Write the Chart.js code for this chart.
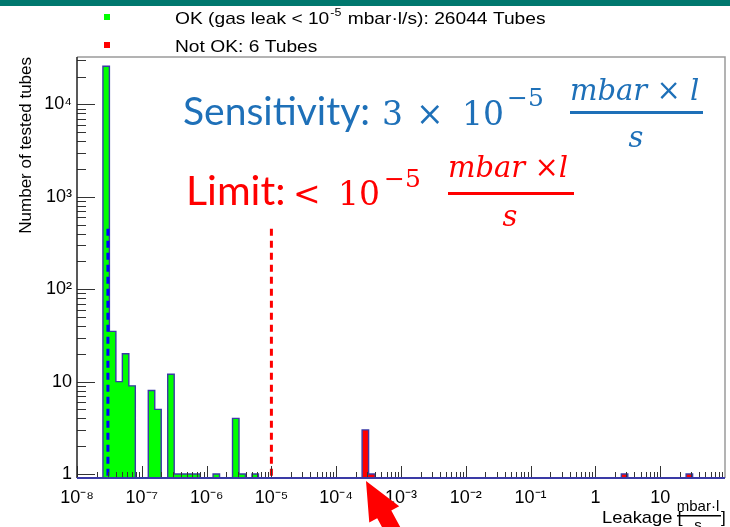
<!DOCTYPE html>
<html>
<head>
<meta charset="utf-8">
<title>Leak test</title>
<script src="https://cdn.jsdelivr.net/npm/chart.js@4.4.1/dist/chart.umd.min.js"></script>
<style>
    html, body { margin: 0; padding: 0; background: #fff; }
    #wrap { position: relative; width: 730px; height: 527px; overflow: hidden; }
    #band { position: absolute; left: 0; top: 0; width: 730px; height: 6px; background: #00786e; }
</style>
</head>
<body>
<div id="wrap">
    <canvas id="chartLeak" width="730" height="527"></canvas>
    <div id="band"></div>
</div>
<script>
// ============= DADOS =============
// histogram bins: log10 of the lower edge of each filled bin (bins are 0.1 decade wide)
const greenLogLo  = [-7.6, -7.5, -7.4, -7.3, -7.2, -6.9, -6.8, -6.6, -6.5, -6.4, -6.3, -6.2, -5.9, -5.6, -5.5, -5.3];
const greenCounts = [25934, 35, 10, 20, 9, 8, 5, 12, 1, 1, 1, 1, 1, 4, 1, 1];
const redLogLo    = [-3.6, -3.5, 0.4, 1.4];
const redCounts   = [3, 1, 1, 1];
const BIN_WIDTH   = 0.1;

const sensitivityX = 3e-8;
const limitX       = 1e-5;
const markerTop    = 450;

const xTickValues = [1e-8, 1e-7, 1e-6, 1e-5, 1e-4, 1e-3, 1e-2, 1e-1, 1, 10];
const xTickLabels = ['10⁻⁸', '10⁻⁷', '10⁻⁶', '10⁻⁵', '10⁻⁴', '10⁻³', '10⁻²', '10⁻¹', '1', '10'];
const yTickValues = [1, 10, 100, 1000, 10000];
const yTickLabels = ['1', '10', '10²', '10³', '10⁴'];

const X_MIN = 1e-8, X_MAX = 100;
const Y_MIN = 0.905, Y_MAX = 32600;

// ============= CORES =============
const CORES = {
    verde:   '#00ff00',
    vermelho:'#ff0000',
    contorno:'#3a3aa6',
    azulTxt: '#1e70b8',
    azul:    '#0000ff',
    moldura: '#9a9a9a',
    tick:    '#333333'
};

const FONTE = '"Liberation Sans", Arial, sans-serif';

// stepped outline of a histogram, back down to the axis between gaps
function histPoints(logLo, counts) {
    const floor = Y_MIN;
    const pts = [];
    logLo.forEach((lo, i) => {
        const prevHi = i > 0 ? logLo[i - 1] + BIN_WIDTH : null;
        if (prevHi === null) {
            pts.push({ x: Math.pow(10, lo), y: floor });
        } else if (Math.abs(prevHi - lo) > 1e-6) {
            pts.push({ x: Math.pow(10, prevHi), y: floor });
        }
        pts.push({ x: Math.pow(10, lo), y: counts[i] });
    });
    pts.push({ x: Math.pow(10, logLo[logLo.length - 1] + BIN_WIDTH), y: floor });
    return pts;
}

function labelFor(values, labels, v) {
    const i = values.findIndex(t => Math.abs(Math.log10(t) - Math.log10(v)) < 1e-6);
    return i >= 0 ? labels[i] : '';
}

// text slightly stretched horizontally, like the original ROOT canvas
function wideText(ctx, txt, x, y, sx) {
    ctx.save();
    ctx.translate(x, y);
    ctx.scale(sx, 1);
    ctx.fillText(txt, 0, 0);
    const w = ctx.measureText(txt).width * sx;
    ctx.restore();
    return w;
}

// ============= PLUGIN – ticks, moldura, textos =============
const rootStyle = {
    id: 'rootStyle',
    afterDatasetsDraw(chart) {
        const { ctx, chartArea: a, scales: { x, y } } = chart;
        ctx.save();
        // inward ticks
        ctx.strokeStyle = CORES.tick;
        ctx.lineWidth = 1;
        ctx.beginPath();
        for (let d = -8; d <= 1; d++) {
            for (let m = 1; m <= 9; m++) {
                const px = Math.round(x.getPixelForValue(m * Math.pow(10, d))) + 0.5;
                const len = m === 1 ? 12 : 6;
                ctx.moveTo(px, a.bottom);
                ctx.lineTo(px, a.bottom - len);
            }
        }
        for (let d = 0; d <= 4; d++) {
            for (let m = 1; m <= 9; m++) {
                const v = m * Math.pow(10, d);
                if (v > Y_MAX) continue;
                const py = Math.round(y.getPixelForValue(v)) + 0.5;
                const len = m === 1 ? 18 : 9;
                ctx.moveTo(a.left, py);
                ctx.lineTo(a.left + len, py);
            }
        }
        ctx.stroke();

        // frame
        ctx.lineWidth = 1.5;
        ctx.strokeStyle = CORES.moldura;
        ctx.beginPath();
        ctx.moveTo(a.left, a.top);
        ctx.lineTo(a.right, a.top);
        ctx.lineTo(a.right, a.bottom);
        ctx.stroke();
        ctx.strokeStyle = '#222';
        ctx.beginPath();
        ctx.moveTo(a.left, a.top);
        ctx.lineTo(a.left, a.bottom);
        ctx.stroke();
        ctx.strokeStyle = CORES.contorno;
        ctx.lineWidth = 2;
        ctx.beginPath();
        ctx.moveTo(a.left, a.bottom);
        ctx.lineTo(a.right, a.bottom);
        ctx.stroke();
        ctx.restore();
    },
    afterDraw(chart) {
        const { ctx } = chart;
        ctx.save();
        ctx.textBaseline = 'alphabetic';
        ctx.textAlign = 'left';

        // legend
        ctx.fillStyle = CORES.verde;
        ctx.fillRect(104, 14, 6, 6);
        ctx.fillStyle = CORES.vermelho;
        ctx.fillRect(104, 42, 6, 6);
        ctx.fillStyle = '#000';
        const SX = 1.13;
        ctx.font = '17px ' + FONTE;
        let tx = 175;
        tx += wideText(ctx, 'OK (gas leak < 10', tx, 24, SX);
        ctx.font = '11px ' + FONTE;
        tx += wideText(ctx, '-5', tx + 1, 16, SX) + 2;
        ctx.font = '17px ' + FONTE;
        wideText(ctx, ' mbar·l/s): 26044 Tubes', tx, 24, SX);
        wideText(ctx, 'Not OK: 6 Tubes', 175, 52, SX);

        // x title
        ctx.font = '17px ' + FONTE;
        wideText(ctx, 'Leakage [', 602, 523, 1.08);
        ctx.font = '15px ' + FONTE;
        ctx.textAlign = 'center';
        ctx.fillText('mbar·l', 698, 511);
        ctx.fillText('s', 698, 530);
        ctx.fillRect(677, 515, 44, 1.5);
        ctx.textAlign = 'left';
        ctx.font = '17px ' + FONTE;
        ctx.fillText(']', 721, 523);

        // sensitivity
        ctx.fillStyle = CORES.azulTxt;
        ctx.font = '39px Lato, sans-serif';
        ctx.fillText('Sensitivity:', 183, 125);
        ctx.font = '33px "DejaVu Serif", serif';
        ctx.fillText('3', 382, 125);
        ctx.fillText('×', 416, 125);
        ctx.fillText('10', 462, 125);
        ctx.font = '25px "DejaVu Serif", serif';
        ctx.fillText('−5', 507, 106);
        ctx.font = 'italic 29px "DejaVu Serif", serif';
        ctx.fillText('mbar × l', 570, 100);
        ctx.fillRect(570, 111, 133, 3);
        ctx.textAlign = 'center';
        ctx.fillText('s', 636, 147);
        ctx.textAlign = 'left';

        // limit
        ctx.fillStyle = CORES.vermelho;
        ctx.font = '41px Lato, sans-serif';
        ctx.fillText('Limit:', 186, 205);
        ctx.font = '33px "DejaVu Serif", serif';
        ctx.fillText('<', 293, 205);
        ctx.fillText('10', 338, 205);
        ctx.font = '25px "DejaVu Serif", serif';
        ctx.fillText('−5', 384, 187);
        ctx.font = 'italic 29px "DejaVu Serif", serif';
        ctx.fillText('mbar ×l', 448, 177);
        ctx.fillRect(448, 192, 126, 3);
        ctx.textAlign = 'center';
        ctx.fillText('s', 510, 226);

        // arrow
        const tip = { x: 366, y: 481 };
        const ux = 0.48, uy = 0.88, nx = 0.88, ny = -0.48;
        const hl = 38, hw = 17, sw = 8, sl = 80;
        const bx = tip.x + hl * ux, by = tip.y + hl * uy;
        ctx.fillStyle = CORES.vermelho;
        ctx.beginPath();
        ctx.moveTo(tip.x, tip.y);
        ctx.lineTo(bx + hw * nx, by + hw * ny);
        ctx.lineTo(bx + sw * nx, by + sw * ny);
        ctx.lineTo(bx + sw * nx + sl * ux, by + sw * ny + sl * uy);
        ctx.lineTo(bx - sw * nx + sl * ux, by - sw * ny + sl * uy);
        ctx.lineTo(bx - sw * nx, by - sw * ny);
        ctx.lineTo(bx - hw * nx, by - hw * ny);
        ctx.closePath();
        ctx.fill();
        ctx.restore();
    }
};

// ============= GRÁFICO =============
const ctxLeak = document.getElementById('chartLeak');

new Chart(ctxLeak, {
    type: 'line',
    data: {
        datasets: [
            {
                label: 'Sensitivity',
                data: [{ x: sensitivityX, y: markerTop }, { x: sensitivityX, y: Y_MIN }],
                borderColor: CORES.azul,
                borderWidth: 3,
                borderDash: [7, 5],
                pointRadius: 0,
                fill: false
            },
            {
                label: 'Limit',
                data: [{ x: limitX, y: markerTop }, { x: limitX, y: Y_MIN }],
                borderColor: CORES.vermelho,
                borderWidth: 3,
                borderDash: [7, 5],
                pointRadius: 0,
                fill: false
            },
            {
                label: 'Not OK: 6 Tubes',
                data: histPoints(redLogLo, redCounts),
                stepped: 'before',
                borderColor: CORES.contorno,
                backgroundColor: CORES.vermelho,
                borderWidth: 1.4,
                pointRadius: 0,
                fill: 'start'
            },
            {
                label: 'OK (gas leak < 10^-5 mbar·l/s): 26044 Tubes',
                data: histPoints(greenLogLo, greenCounts),
                stepped: 'before',
                borderColor: CORES.contorno,
                backgroundColor: CORES.verde,
                borderWidth: 1.4,
                pointRadius: 0,
                fill: 'start'
            }
        ]
    },
    options: {
        responsive: false,
        animation: false,
        devicePixelRatio: 1,
        layout: { padding: { top: 57, right: 5, left: 0, bottom: 0 } },
        plugins: {
            legend: { display: false },
            tooltip: { enabled: false }
        },
        scales: {
            x: {
                type: 'logarithmic',
                bounds: 'data',
                min: X_MIN,
                max: X_MAX,
                afterBuildTicks: (s) => { s.ticks = xTickValues.map(v => ({ value: v })); },
                afterFit: (s) => { s.height = 49; },
                grid: { display: false, drawTicks: false },
                border: { display: false },
                ticks: {
                    autoSkip: false,
                    maxRotation: 0,
                    padding: 9,
                    color: '#000',
                    font: { family: FONTE, size: 18 },
                    callback: (v) => labelFor(xTickValues, xTickLabels, v)
                }
            },
            y: {
                type: 'logarithmic',
                bounds: 'data',
                min: Y_MIN,
                max: Y_MAX,
                afterBuildTicks: (s) => { s.ticks = yTickValues.map(v => ({ value: v })); },
                afterFit: (s) => { s.width = 77; },
                grid: { display: false, drawTicks: false },
                border: { display: false },
                title: {
                    display: true,
                    text: 'Number of tested tubes',
                    align: 'end',
                    color: '#000',
                    padding: { top: 16, bottom: 0 },
                    font: { family: FONTE, size: 17 }
                },
                ticks: {
                    autoSkip: false,
                    padding: 5,
                    color: '#000',
                    font: { family: FONTE, size: 18 },
                    callback: (v) => labelFor(yTickValues, yTickLabels, v)
                }
            }
        }
    },
    plugins: [rootStyle]
});
</script>
</body>
</html>
